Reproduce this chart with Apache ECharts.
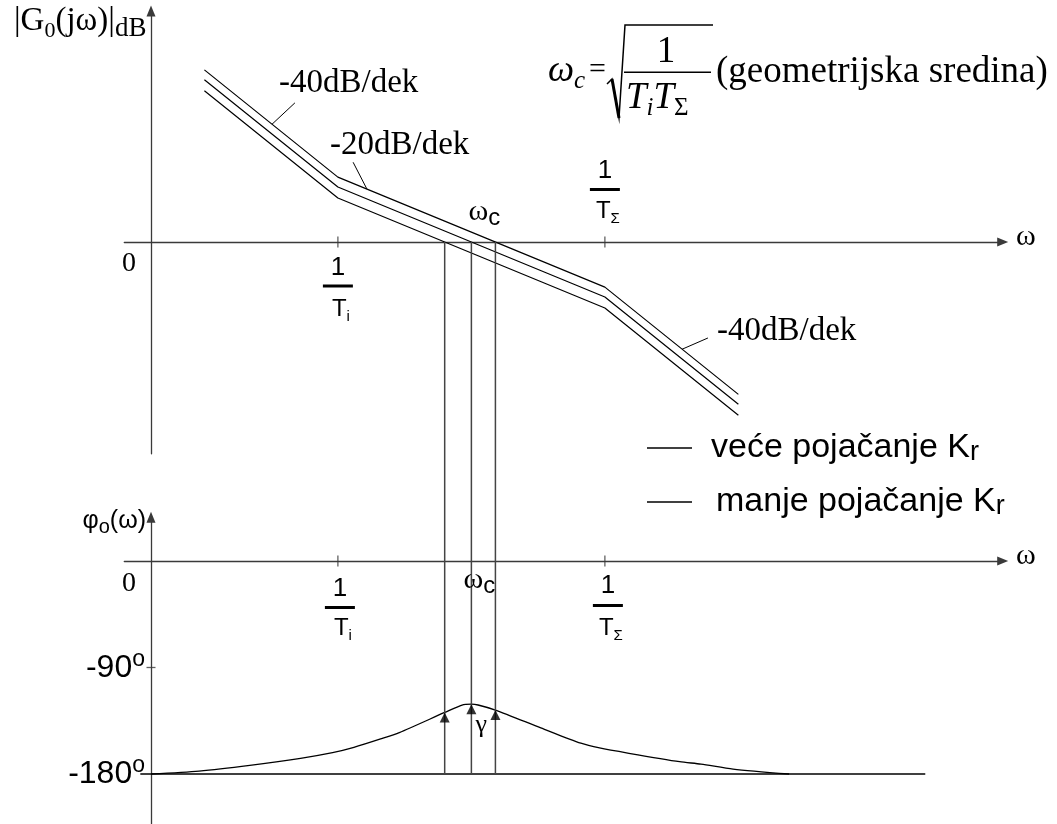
<!DOCTYPE html>
<html>
<head>
<meta charset="utf-8">
<script src="https://cdn.jsdelivr.net/npm/echarts@6/dist/echarts.min.js"></script>
<style>
  html, body { margin: 0; padding: 0; background: #fff; }
  #chart { width: 1057px; height: 824px; }
</style>
</head>
<body>
<div id="chart"></div>
<script>
// Frequency axis in decades, counted from the ordinate axis
const omegaI = 0.7;        // 1/Ti
const omegaSigma = 1.7;    // 1/TΣ
const freqTicks = [omegaI, omegaSigma];

// Asymptotic magnitude |G0(jω)| in dB at: start, 1/Ti, 1/TΣ, end
const magFreq = [0.2, 0.7, 1.7, 2.2];
const magHigh = [31.3, 11.8, -8.2, -27.7];   // veće pojačanje Kr
const magMid  = [29.5, 10.0, -10.0, -29.5];
const magLow  = [27.5, 8.0, -12.0, -31.5];   // manje pojačanje Kr

// Phase φo(ω) in degrees
const phaseFreq = [0.0, 0.18, 0.37, 0.56, 0.68, 0.76, 0.86, 0.93, 1.10, 1.165, 1.20, 1.225, 1.29, 1.46, 1.61, 1.68, 1.79, 1.98, 2.06, 2.18, 2.39];
const phaseDeg  = [-180, -177.5, -172.7, -166.8, -162, -157.5, -150.4, -145, -128, -121.7, -121, -121.7, -126, -141, -154, -158, -162.5, -169.6, -171.6, -175.8, -180];

// -180° reference line and labelled phase ticks
const refFreq = [-0.04, 2.9];
const refPhase = -180;
const phaseTicks = [-90, -180];

const SERIF = '"Liberation Serif", "Times New Roman", serif';
const SANS = '"Liberation Sans", Arial, sans-serif';
const AXIS_COLOR = '#3a3a3a';

const zip = (xs, ys) => xs.map((x, i) => [x, ys[i]]);

// frequency where an asymptote crosses 0 dB
function zeroCrossing(xs, ys) {
  for (let i = 0; i < ys.length - 1; i++) {
    if (ys[i] >= 0 && ys[i + 1] < 0) {
      const t = ys[i] / (ys[i] - ys[i + 1]);
      return xs[i] + t * (xs[i + 1] - xs[i]);
    }
  }
  return null;
}
function phaseAt(x) {
  for (let i = 0; i < phaseFreq.length - 1; i++) {
    if (x >= phaseFreq[i] && x <= phaseFreq[i + 1]) {
      const t = (x - phaseFreq[i]) / (phaseFreq[i + 1] - phaseFreq[i]);
      return phaseDeg[i] + t * (phaseDeg[i + 1] - phaseDeg[i]);
    }
  }
  return refPhase;
}
const crossings = [magLow, magMid, magHigh].map(v => zeroCrossing(magFreq, v));

const chart = echarts.init(document.getElementById('chart'));

const axisLineCfg = {
  onZero: true, symbol: ['none', 'triangle'], symbolSize: [9, 11],
  lineStyle: { color: AXIS_COLOR, width: 1.3 }
};
function xAxisCfg(gridIndex) {
  return {
    type: 'value', gridIndex, min: -0.1, max: 3.19, axisLine: axisLineCfg,
    axisTick: { show: false }, axisLabel: { show: false }, splitLine: { show: false }
  };
}
function yAxisCfg(gridIndex, min, max) {
  return {
    type: 'value', gridIndex, min, max, axisLine: axisLineCfg,
    axisTick: { show: false }, axisLabel: { show: false }, splitLine: { show: false }
  };
}

const lineBase = {
  type: 'line', xAxisIndex: 0, yAxisIndex: 0, symbol: 'none', silent: true,
  color: '#000', lineStyle: { color: '#000', width: 1.2 }
};
const legendText = pad => ({
  fontFamily: SANS, fontSize: 34, lineHeight: 36, color: '#000', padding: [0, 0, 0, pad],
  rich: { sub: { fontFamily: SANS, fontSize: 27, lineHeight: 23, verticalAlign: 'bottom', color: '#000' } }
});
const legendBase = {
  orient: 'vertical', left: 642, icon: 'rect', itemWidth: 45, itemHeight: 1.3,
  selectedMode: false, formatter: n => n.replace(/Kr$/, 'K{sub|r}')
};

const option = {
  animation: false,
  backgroundColor: '#fff',
  grid: [
    { left: 124.3, width: 878.4, top: 11, height: 442.75 },
    { left: 124.3, width: 878.4, top: 517.2, height: 306.5 }
  ],
  xAxis: [xAxisCfg(0), xAxisCfg(1)],
  yAxis: [yAxisCfg(0, -38.5, 42), yAxisCfg(1, -222, 37)],
  legend: [
    Object.assign({}, legendBase, { data: ['veće pojačanje Kr'], top: 425, textStyle: legendText(14) }),
    Object.assign({}, legendBase, { data: ['manje pojačanje Kr'], top: 479, textStyle: legendText(19) })
  ],
  series: [
    Object.assign({}, lineBase, {
      name: 'veće pojačanje Kr', data: zip(magFreq, magHigh),
      markLine: {
        silent: true, symbol: ['none', 'none'], animation: false,
        lineStyle: { color: '#000', width: 1, type: 'solid' }, label: { show: false },
        emphasis: { disabled: true },
        data: [
          [{ coord: [0.453, 21.4] }, { coord: [0.539, 25.3] }],
          [{ coord: [0.809, 9.6] }, { coord: [0.757, 14.5] }],
          [{ coord: [1.989, -19.5] }, { coord: [2.086, -17.45] }]
        ]
      }
    }),
    Object.assign({}, lineBase, { name: 'nominalno', data: zip(magFreq, magMid) }),
    Object.assign({}, lineBase, { name: 'manje pojačanje Kr', data: zip(magFreq, magLow) }),
    {
      type: 'scatter', xAxisIndex: 0, yAxisIndex: 0, silent: true,
      symbol: 'rect', symbolSize: [1.3, 11], itemStyle: { color: AXIS_COLOR },
      data: freqTicks.map(f => [f, 0])
    },
    {
      type: 'line', xAxisIndex: 1, yAxisIndex: 1, symbol: 'none', silent: true,
      smooth: 0.25, color: '#000', lineStyle: { color: '#000', width: 1.3 },
      data: zip(phaseFreq, phaseDeg)
    },
    {
      type: 'line', xAxisIndex: 1, yAxisIndex: 1, symbol: 'none', silent: true,
      color: '#000', lineStyle: { color: '#000', width: 1.5 },
      data: refFreq.map(f => [f, refPhase])
    },
    {
      type: 'scatter', xAxisIndex: 1, yAxisIndex: 1, silent: true,
      symbol: 'rect', itemStyle: { color: AXIS_COLOR },
      data: freqTicks.map(f => ({ value: [f, 0], symbolSize: [1.3, 11] }))
        .concat([{ value: [0, phaseTicks[0]], symbolSize: [9, 1.3] }])
    },
    {
      // phase margin arrows at each crossover frequency
      type: 'scatter', xAxisIndex: 1, yAxisIndex: 1, silent: true,
      symbol: 'triangle', symbolSize: [10, 10], symbolOffset: [0, 5],
      itemStyle: { color: '#000' }, z: 5,
      data: crossings.map(x => [x, phaseAt(x)])
    }
  ]
};

chart.setOption(option);

// ---- annotations -------------------------------------------------------
const LH = F => Math.round(F * 1.25);
// lowered (subscript) token
function sub(F, f, drop, extra) {
  return Object.assign({ fontSize: f, lineHeight: LH(F) - 0.68 * (F - f) - 2 * drop,
    verticalAlign: 'bottom', fill: '#000' }, extra || {});
}
// raised (superscript) token, rise measured on the baseline
function sup(F, f, rise, extra) {
  return Object.assign({ fontSize: f, lineHeight: LH(F) + 0.68 * (F - f) - 2 * rise,
    verticalAlign: 'top', fill: '#000' }, extra || {});
}
function label(x, baseline, text, F, family, opts) {
  opts = opts || {};
  return {
    type: 'text', silent: true, z: 20,
    style: {
      x: x, y: baseline - 0.34 * F, text: text,
      fontSize: F, fontFamily: family, fontStyle: opts.italic ? 'italic' : 'normal',
      lineHeight: LH(F), fill: '#000',
      align: opts.align || 'left', verticalAlign: 'middle',
      rich: opts.rich || {}
    }
  };
}
function bar(x, y, w, h) {
  return { type: 'rect', silent: true, z: 20, shape: { x: x, y: y, width: w, height: h }, style: { fill: '#000' } };
}
function seg(p, q, w, color) {
  return { type: 'line', silent: true, z: 4, shape: { x1: p[0], y1: p[1], x2: q[0], y2: q[1] },
    style: { stroke: color || '#000', lineWidth: w || 1.2 } };
}
function frac(cx, b1, barY, bT, subText) {
  return [
    label(cx, b1, '1', 26, SANS, { align: 'center' }),
    bar(cx - 15, barY, 30, 3),
    label(cx + 3, bT, 'T{s|' + subText + '}', 24, SANS,
      { align: 'center', rich: { s: sub(24, 15, 5, { fontFamily: SANS }) } })
  ];
}

const px0 = v => chart.convertToPixel({ gridIndex: 0 }, v);
const px1 = v => chart.convertToPixel({ gridIndex: 1 }, v);

const g = [];
// crossover verticals from 0 dB down to -180°
crossings.forEach(x => { g.push(seg(px0([x, 0]), px1([x, refPhase]), 1.5, '#444')); });

// axis titles
g.push(label(14, 33, '|G{z|0}(jω)|{u|dB}', 33, SERIF,
  { rich: { z: sub(33, 22, 0, { fontFamily: SERIF }), u: sub(33, 27, 4, { fontFamily: SERIF }) } }));
g.push(label(146, 530, 'φ{o|o}(ω)', 25, SANS,
  { align: 'right', rich: { o: sub(25, 20, 3, { fontFamily: SANS }) } }));
const ax0 = px0([0, 0]), ax1 = px1([0, 0]);
g.push(label(ax0[0] - 29, ax0[1] + 31, '0', 28, SERIF));
g.push(label(ax1[0] - 29, ax1[1] + 32, '0', 28, SERIF));
g.push(label(1016, ax0[1] + 5, 'ω', 30, SERIF));
g.push(label(1016, ax1[1] + 5, 'ω', 30, SERIF));

// phase tick labels
phaseTicks.forEach(v => {
  const p = px1([0, v]);
  g.push(label(p[0] - 6, p[1] + 11.5, String(v) + '{o|o}', 32, SANS,
    { align: 'right', rich: { o: sup(32, 23, 11, { fontFamily: SANS }) } }));
});

// slope labels
g.push(label(279, 95, '-40dB/dek', 33, SERIF));
g.push(label(330, 157, '-20dB/dek', 33, SERIF));
g.push(label(717, 343, '-40dB/dek', 33, SERIF));

// corner frequencies
const ti0 = px0([omegaI, 0]), ts0 = px0([omegaSigma, 0]);
const ti1 = px1([omegaI, 0]), ts1 = px1([omegaSigma, 0]);
frac(ti0[0], ti0[1] + 35, ti0[1] + 42.5, ti0[1] + 76, 'i').forEach(e => g.push(e));
frac(ts0[0], ts0[1] - 62, ts0[1] - 54, ts0[1] - 22, 'Σ').forEach(e => g.push(e));
frac(ti1[0] + 2, ti1[1] + 37, ti1[1] + 45, ti1[1] + 76, 'i').forEach(e => g.push(e));
frac(ts1[0] + 3, ts1[1] + 34, ts1[1] + 43, ts1[1] + 76, 'Σ').forEach(e => g.push(e));

// crossover frequency labels
const wc0 = px0([crossings[1], 0]), wc1 = px1([crossings[1], 0]);
const wcRich = { c: sub(30, 24, 4, { fontFamily: SANS }) };
g.push(label(wc0[0] - 3, wc0[1] - 20, 'ω{c|c}', 30, SERIF, { rich: wcRich }));
g.push(label(wc1[0] - 8, wc1[1] + 29, 'ω{c|c}', 30, SERIF, { rich: wcRich }));
const gm = px1([crossings[1], phaseAt(crossings[1])]);
g.push(label(gm[0] + 4, gm[1] + 30, 'γ', 26, SERIF));

// formula: ωc = sqrt(1 / (Ti TΣ)) (geometrijska sredina)
g.push(label(548, 84, 'ω{c|c}', 37, SERIF,
  { italic: true, rich: { c: sub(37, 25, 6, { fontFamily: SERIF, fontStyle: 'italic' }) } }));
g.push(label(589, 80, '=', 30, SERIF));
g.push({ type: 'polyline', silent: true, z: 20,
  shape: { points: [[607, 84], [612, 79], [619, 118], [625, 25], [713, 25]] },
  style: { stroke: '#000', lineWidth: 1.5, fill: null } });
g.push(seg([612, 79], [619, 118], 3));
g.push(label(666, 65, '1', 37, SERIF, { align: 'center' }));
g.push(bar(624, 71.5, 87, 1.6));
g.push(label(626, 111, 'T{s|i}T{r|Σ}', 37, SERIF, { italic: true, rich: {
  s: sub(37, 25, 6, { fontFamily: SERIF, fontStyle: 'italic' }),
  r: sub(37, 25, 6, { fontFamily: SERIF, fontStyle: 'normal' }) } }));
g.push(label(716, 85, '(geometrijska sredina)', 37, SERIF));

chart.setOption({ graphic: g });
</script>
</body>
</html>
